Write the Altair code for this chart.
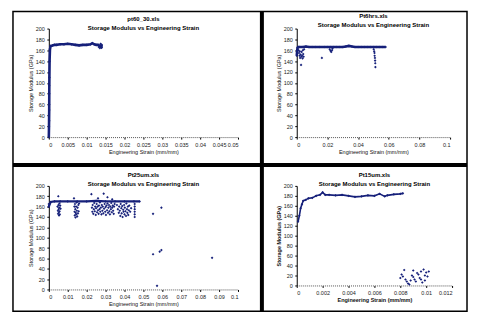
import altair as alt
import pandas as pd

NAVY = "#16207a"
FONT = "Liberation Sans"
SUBTITLE = "Storage Modulus vs Engineering Strain"
Y_TICKS = [0, 20, 40, 60, 80, 100, 120, 140, 160, 180, 200]

# ---------------- Panel 1: pt60_30.xls ----------------
p1_title = "pt60_30.xls"
p1_xticks = [0, 0.005, 0.01, 0.015, 0.02, 0.025, 0.03, 0.035, 0.04, 0.045, 0.05]
p1_line_x = [0, 0.00005, 0.0001, 0.00012, 0.00015, 0.0002, 0.0003, 0.0005, 0.001, 0.0015,
             0.002, 0.003, 0.004, 0.005, 0.006, 0.007, 0.008, 0.009, 0.010, 0.011,
             0.0115, 0.012, 0.0125, 0.013, 0.0135, 0.0138, 0.014]
p1_line_y = [0, 20, 50, 80, 110, 140, 162, 168, 169, 170,
             170, 171, 171, 172, 171, 170, 169, 170, 170, 171,
             173, 171, 170, 170, 168, 166, 170]
p1_pts_x = [0.0132, 0.0135, 0.0137, 0.0139, 0.0140, 0.0136, 0.0001, 0.0001, 0.0001]
p1_pts_y = [166, 164, 172, 167, 165, 169, 30, 60, 95]

# ---------------- Panel 2: Pt6hrs.xls ----------------
p2_title = "Pt6hrs.xls"
p2_xticks = [0, 0.02, 0.04, 0.06, 0.08, 0.1]
p2_line_x = [0, 0.0003, 0.0006, 0.001, 0.002, 0.004, 0.006, 0.008, 0.01, 0.012, 0.015,
             0.018, 0.02, 0.022, 0.024, 0.026, 0.028, 0.03, 0.032, 0.034, 0.036, 0.038,
             0.04, 0.042, 0.044, 0.046, 0.048, 0.05, 0.052, 0.054, 0.056, 0.058]
p2_line_y = [150, 160, 165, 166, 166, 166, 167, 166, 166, 166, 166,
             166, 166, 166, 166, 166, 166, 166, 167, 168, 167, 166,
             166, 166, 166, 166, 166, 166, 166, 166, 166, 166]
p2_pts_x = [0.0012, 0.0015, 0.0018, 0.002, 0.0022, 0.0025, 0.0028, 0.003, 0.0032, 0.0035,
            0.0038, 0.004, 0.0042, 0.0045, 0.0048, 0.0164,
            0.0215, 0.022, 0.0225, 0.023, 0.0233,
            0.0502, 0.0505, 0.0507, 0.0508, 0.051, 0.0511, 0.0512, 0.0513]
p2_pts_y = [160, 155, 150, 158, 146, 152, 133, 148, 157, 150,
            145, 160, 153, 148, 162, 146,
            162, 159, 157, 160, 163,
            162, 158, 155, 150, 146, 141, 136, 129]

# ---------------- Panel 3: Pt25um.xls ----------------
p3_title = "Pt25um.xls"
p3_xticks = [0, 0.01, 0.02, 0.03, 0.04, 0.05, 0.06, 0.07, 0.08, 0.09, 0.1]
p3_line_x = [0, 0.001, 0.003, 0.006, 0.01, 0.015, 0.02, 0.025, 0.03, 0.035, 0.04, 0.045, 0.048]
p3_line_y = [160, 169, 170, 170, 170, 170, 170, 171, 170, 170, 170, 170, 170]
p3_pts_x = [0.0, 0.0,
            0.0046, 0.0048, 0.0049, 0.005, 0.0051, 0.0052, 0.0053, 0.0054, 0.0055, 0.0056,
            0.0057, 0.0058, 0.006, 0.0062,
            0.0133, 0.0135, 0.0136, 0.0137, 0.0138, 0.014, 0.0141, 0.0142, 0.0144, 0.0145,
            0.0147, 0.0148, 0.015, 0.0152, 0.0154, 0.0156, 0.0158, 0.016,
            0.0225, 0.0228, 0.023, 0.0232, 0.0235, 0.0238, 0.024, 0.0243, 0.0245, 0.0248,
            0.025, 0.0253, 0.0255, 0.0258, 0.026, 0.0263, 0.0265, 0.0268, 0.027, 0.0272,
            0.0275, 0.0278, 0.028, 0.0283, 0.0285, 0.0288, 0.029, 0.0292, 0.0295, 0.0298,
            0.03, 0.0302, 0.0305, 0.0308, 0.031, 0.0313, 0.0315, 0.0318, 0.032, 0.0323,
            0.0325, 0.0328, 0.033, 0.0333, 0.0335, 0.0338, 0.034, 0.0343, 0.0345, 0.0348,
            0.026, 0.031, 0.0335,
            0.036, 0.0365, 0.037, 0.0372, 0.0375, 0.0378, 0.038, 0.0383, 0.0385, 0.0388,
            0.039, 0.0393, 0.0395, 0.0398, 0.04, 0.0402, 0.0405, 0.0408, 0.041, 0.0413,
            0.0415, 0.0418, 0.042, 0.0423, 0.0425, 0.043, 0.0435,
            0.0454, 0.0454, 0.0454, 0.0454, 0.0454, 0.0454,
            0.0551, 0.0595, 0.0551, 0.0586, 0.0595, 0.0572, 0.0863]
p3_pts_y = [160, 165,
            160, 152, 146, 180, 163, 155, 149, 143, 158, 166,
            151, 145, 162, 156,
            176, 160, 150, 143, 165, 155, 139, 148, 160, 145,
            168, 152, 141, 158, 147, 163, 151, 166,
            184, 158, 150, 163, 146, 155, 167, 151, 160, 144,
            157, 165, 149, 160, 153, 146, 162, 155, 168, 150,
            158, 145, 163, 152, 160, 147, 185, 156, 165, 150,
            159, 144, 162, 153, 166, 148, 158, 163, 151, 145,
            160, 155, 167, 149, 158, 162, 152, 146, 160, 165,
            176, 178, 174,
            163, 155, 148, 160, 152, 142, 165, 157, 147, 161,
            140, 154, 150, 163, 145, 158, 151, 142, 166, 155,
            148, 160, 144, 153, 162, 150, 157,
            165, 160, 155, 150, 145, 140,
            146, 158, 68, 73, 76, 7, 61]

# ---------------- Panel 4: Pt15um.xls ----------------
p4_title = "Pt15um.xls"
p4_xticks = [0, 0.002, 0.004, 0.006, 0.008, 0.01, 0.012]
p4_line_x = [0.0001, 0.0002, 0.0003, 0.0004, 0.0005, 0.0007, 0.0009, 0.0012, 0.0015, 0.0018,
             0.002, 0.0022, 0.0025, 0.003, 0.0035, 0.004, 0.0045, 0.005, 0.0055, 0.006,
             0.0064, 0.0068, 0.007, 0.0075, 0.008, 0.0082]
p4_line_y = [128, 140, 155, 163, 170, 172, 175, 176, 180, 182,
             187, 182, 182, 181, 182, 180, 178, 179, 181, 180,
             184, 179, 181, 183, 184, 185]
p4_pts_x = [0.0080, 0.0081, 0.0082, 0.0083, 0.0084, 0.0085, 0.0086, 0.0087, 0.0088, 0.0089,
            0.0090, 0.0090, 0.0091, 0.0092, 0.0093, 0.0094, 0.0095, 0.0096, 0.0096, 0.0097,
            0.0098, 0.0099, 0.0100, 0.0101, 0.0102, 0.0099]
p4_pts_y = [15, 22, 18, 31, 12, 8, 4, 2, 10, 20,
            17, 30, 12, 8, 25, 22, 15, 28, 12, 6,
            32, 20, 26, 18, 28, 10]


def panel(title, line_x, line_y, pts_x, pts_y, x_ticks, width, height,
          bold=False, line_width=2.6, title_offset=-3):
    line_df = pd.DataFrame({"x": line_x, "y": line_y, "i": list(range(len(line_x)))})
    pts_df = pd.DataFrame({"x": pts_x, "y": pts_y})
    xs = alt.Scale(domain=[x_ticks[0], x_ticks[-1]], nice=False, zero=False)
    ys = alt.Scale(domain=[0, 200], nice=False)
    weight = "bold" if bold else "normal"
    xaxis = alt.Axis(values=x_ticks, format="~g", title="Engineering Strain (mm/mm)",
                     titleFontWeight=weight, domainDash=[1, 1], domainColor="#555",
                     labelOverlap=False)
    yaxis = alt.Axis(values=Y_TICKS, title="Storage Modulus (GPa)", titleFontWeight=weight,
                     labelOverlap=False)
    X = alt.X("x:Q", scale=xs, axis=xaxis)
    Y = alt.Y("y:Q", scale=ys, axis=yaxis)
    line = alt.Chart(line_df).mark_line(color=NAVY, strokeWidth=line_width).encode(
        x=X, y=Y, order="i:Q")
    marks = alt.Chart(line_df).mark_point(shape="diamond", filled=True, size=7,
                                          color=NAVY, opacity=1).encode(x=X, y=Y)
    pts = alt.Chart(pts_df).mark_point(shape="diamond", filled=True, size=7,
                                       color=NAVY, opacity=1).encode(x=X, y=Y)
    return [line, marks, pts], dict(
        width=width, height=height,
        title=alt.TitleParams(text=[title, SUBTITLE], fontSize=6, fontWeight="bold",
                              font=FONT, lineHeight=9, offset=title_offset,
                              anchor="middle", frame="group", color="black"))


one = pd.DataFrame({"k": [0]})
FT, FB, FL, FR = -17.25, 284, -36, 420
frame = alt.Chart(one).mark_rect(filled=False, stroke="black", strokeWidth=1.5).encode(
    x=alt.value(FL), x2=alt.value(FR), y=alt.value(FT), y2=alt.value(FB))
vdiv = alt.Chart(one).mark_rule(color="black", strokeWidth=4).encode(
    x=alt.value(214), y=alt.value(FT), y2=alt.value(FB))
hdiv = alt.Chart(one).mark_rule(color="black", strokeWidth=4).encode(
    y=alt.value(137), x=alt.value(FL), x2=alt.value(FR))

l1, k1 = panel(p1_title, p1_line_x, p1_line_y, p1_pts_x, p1_pts_y, p1_xticks, 190, 109,
               title_offset=-22)
l2, k2 = panel(p2_title, p2_line_x, p2_line_y, p2_pts_x, p2_pts_y, p2_xticks, 154, 109,
               title_offset=-1)
l3, k3 = panel(p3_title, p3_line_x, p3_line_y, p3_pts_x, p3_pts_y, p3_xticks, 190, 104,
               line_width=2.2)
l4, k4 = panel(p4_title, p4_line_x, p4_line_y, p4_pts_x, p4_pts_y, p4_xticks, 156, 100,
               bold=True, line_width=1.6)

c1 = alt.layer(*l1, frame, vdiv, hdiv).properties(**k1)
c2 = alt.layer(*l2).properties(**k2)
c3 = alt.layer(*l3).properties(**k3)
c4 = alt.layer(*l4).properties(**k4)

chart = alt.concat(c1, c2, c3, c4, columns=2, spacing={"row": 49, "column": 59},
                   bounds="flush").properties(
    padding={"left": 3, "top": 0, "right": 0, "bottom": 0},
    background="white",
).configure_view(stroke=None).configure_axis(
    labelFont=FONT, titleFont=FONT, labelFontSize=5.5, titleFontSize=5.5,
    labelColor="#222", titleColor="#111", domainColor="#000", tickColor="#000",
    tickSize=2, labelPadding=2.5, titlePadding=2, grid=False,
).configure_axisX(labelPadding=3)

chart.save("out.html", embed_options={"renderer": "svg", "actions": False})
